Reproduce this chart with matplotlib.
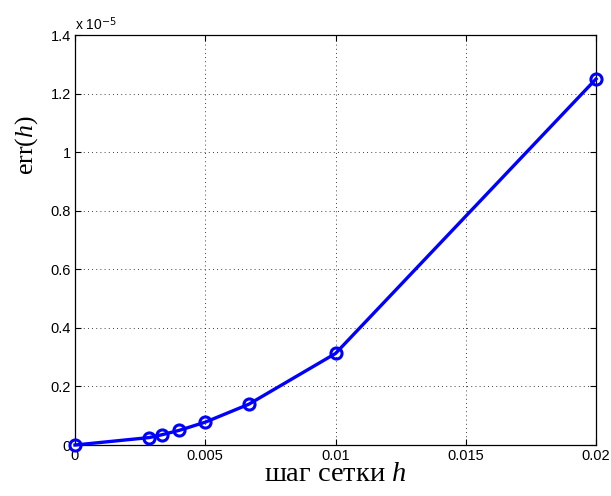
import matplotlib
matplotlib.use("Agg")
import matplotlib.pyplot as plt
from matplotlib.ticker import FuncFormatter

# grid step h and error err(h)
h = [0.0, 1 / 350, 1 / 300, 0.004, 0.005, 1 / 150, 0.01, 0.02]
err = [0.0, 0.0255e-5, 0.0350e-5, 0.050e-5, 0.078e-5, 0.139e-5, 0.3125e-5, 1.25e-5]

xticks = [0, 0.005, 0.01, 0.015, 0.02]
xticklabels = ["0", "0.005", "0.01", "0.015", "0.02"]
yticks = [0, 0.2e-5, 0.4e-5, 0.6e-5, 0.8e-5, 1.0e-5, 1.2e-5, 1.4e-5]

plt.rcParams["font.family"] = "Liberation Sans"
plt.rcParams["mathtext.fontset"] = "custom"
plt.rcParams["mathtext.rm"] = "Liberation Serif"
plt.rcParams["mathtext.it"] = "Liberation Serif:italic"

fig = plt.figure(figsize=(6.11, 4.96), dpi=100)
ax = fig.add_axes([0.1227, 0.1028, 0.8528, 0.8266])

ax.plot(h, err, color="blue", linewidth=2.4, marker="o", markersize=8,
        markerfacecolor="none", markeredgecolor="blue", markeredgewidth=2.2,
        clip_on=False, zorder=3)

ax.set_xlim(0, 0.02)
ax.set_ylim(0, 1.4e-5)
ax.set_xticks(xticks)
ax.set_xticklabels(xticklabels)
ax.set_yticks(yticks)
ax.yaxis.set_major_formatter(FuncFormatter(lambda v, p: "%g" % round(v / 1e-5, 3)))

ax.grid(True, color="black", linestyle=(0, (1, 4)), linewidth=0.6)
ax.tick_params(direction="in", length=4, width=0.8, labelsize=10.5, top=True, right=True,
               pad=3)
for s in ax.spines.values():
    s.set_linewidth(0.9)

ax.text(0.0, 1.006, r"x 10$^{\mathsf{-5}}$", transform=ax.transAxes, fontsize=10,
        ha="left", va="bottom")

ax.set_xlabel(r"шаг сетки $h$", fontsize=20.5, family="Liberation Serif", labelpad=-1)
ax.set_ylabel(r"err($h$)", fontsize=18.5, family="Liberation Serif")
ax.yaxis.set_label_coords(-0.068, 0.73)

fig.savefig("out.png", dpi=100)
